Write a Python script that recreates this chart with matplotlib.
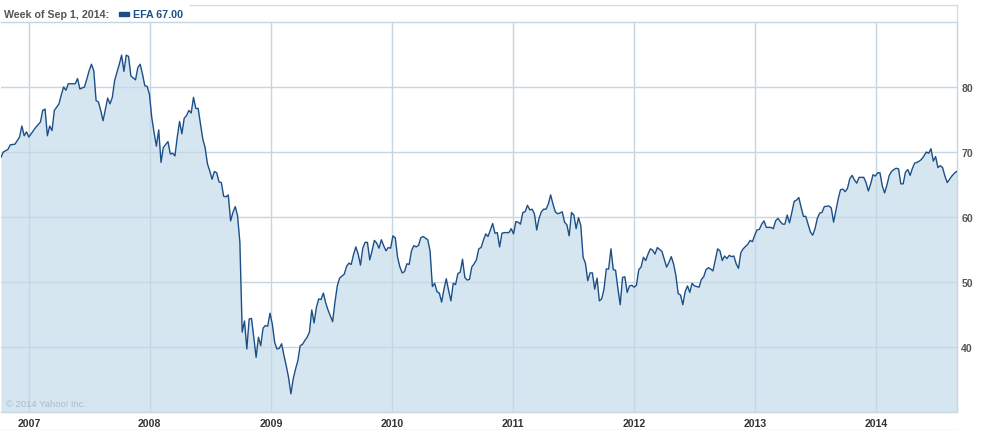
import numpy as np
import pandas as pd
import matplotlib
matplotlib.use("Agg")
import matplotlib.pyplot as plt
from matplotlib.lines import Line2D
from matplotlib.patches import Rectangle

# ---- data: weekly closes of EFA (weeks counted from the first week, Oct 9 2006) ----
start_week = "2006-10-09"
end_week = "2014-09-01"
week_index = [
    0, 1, 3, 4, 6, 8, 9, 10, 11, 12, 14, 15, 17, 18, 19, 20, 21, 22, 23, 25,
    26, 27, 28, 29, 32, 33, 34, 36, 37, 38, 39, 40, 41, 42, 43, 44, 46, 47, 48, 49,
    51, 52, 53, 54, 55, 56, 58, 59, 60, 61, 62, 63, 64, 65, 66, 67, 68, 69, 70, 72,
    73, 74, 75, 76, 77, 78, 79, 80, 81, 82, 83, 84, 85, 86, 87, 88, 89, 90, 91, 92,
    93, 94, 95, 96, 97, 98, 99, 100, 101, 102, 103, 104, 105, 106, 107, 108, 109, 110, 111, 112,
    113, 114, 115, 116, 117, 118, 119, 120, 121, 122, 123, 124, 125, 126, 127, 128, 129, 130, 131, 132,
    133, 134, 135, 136, 137, 138, 139, 140, 141, 142, 143, 144, 145, 146, 148, 149, 150, 151, 152, 153,
    154, 155, 156, 157, 158, 159, 160, 161, 162, 163, 164, 165, 166, 167, 168, 169, 170, 171, 172, 173,
    174, 175, 176, 177, 178, 179, 180, 181, 182, 184, 185, 186, 187, 188, 189, 190, 191, 192, 193, 194,
    195, 196, 197, 198, 199, 200, 201, 202, 203, 204, 205, 206, 207, 208, 209, 210, 212, 213, 214, 215,
    216, 217, 219, 220, 221, 222, 223, 224, 225, 226, 227, 228, 229, 230, 231, 232, 233, 234, 235, 236,
    237, 238, 239, 240, 241, 242, 243, 244, 245, 246, 247, 248, 249, 250, 251, 252, 253, 254, 255, 256,
    257, 258, 259, 260, 261, 262, 263, 264, 265, 266, 267, 268, 269, 270, 271, 272, 273, 274, 275, 276,
    277, 278, 279, 280, 281, 282, 283, 284, 285, 286, 287, 288, 289, 290, 291, 292, 293, 294, 295, 296,
    297, 298, 299, 301, 302, 303, 304, 305, 306, 307, 308, 309, 310, 311, 312, 313, 314, 315, 316, 317,
    318, 319, 320, 322, 323, 324, 325, 326, 327, 328, 329, 330, 331, 332, 333, 334, 335, 336, 337, 338,
    339, 340, 341, 342, 343, 344, 345, 346, 347, 348, 349, 350, 351, 352, 353, 354, 355, 357, 358, 359,
    360, 361, 362, 363, 364, 365, 366, 367, 368, 369, 370, 371, 372, 373, 374, 375, 376, 377, 378, 379,
    380, 381, 382, 383, 384, 385, 386, 387, 388, 389, 390, 391, 392, 393, 394, 395, 396, 397, 398, 399,
    400, 401, 402, 403, 404, 405, 406, 407, 408, 409, 410, 411, 412,
]
close = [
    69.2, 70.0, 70.4, 71.1, 71.2, 72.3, 74.0, 72.5, 73.1, 72.3, 73.3, 73.8, 74.6, 76.4, 76.6, 72.5, 74.0, 73.3, 76.4, 77.4,
    78.8, 80.0, 79.5, 80.5, 80.5, 81.3, 79.7, 80.0, 81.2, 82.5, 83.5, 82.5, 77.9, 77.7, 76.4, 74.8, 78.3, 77.4, 78.4, 81.0,
    83.5, 84.9, 82.4, 84.9, 84.7, 81.7, 81.1, 83.0, 83.5, 82.0, 80.2, 80.1, 78.9, 75.3, 73.0, 70.9, 73.4, 68.4, 70.7, 71.6,
    69.7, 69.8, 69.4, 72.3, 74.7, 72.8, 75.2, 75.6, 76.4, 76.0, 78.4, 76.7, 76.7, 74.3, 72.0, 70.7, 68.2, 67.1, 65.8, 67.0,
    66.8, 65.4, 65.3, 63.2, 63.1, 63.4, 59.4, 60.7, 61.6, 60.2, 56.1, 42.3, 44.0, 39.7, 44.3, 44.4, 41.5, 38.4, 41.5, 40.2,
    42.9, 43.3, 43.2, 45.2, 43.5, 40.7, 39.7, 39.8, 40.5, 38.7, 37.1, 35.3, 32.8, 35.1, 36.6, 37.9, 40.2, 40.4, 41.0, 41.5,
    42.3, 45.7, 43.7, 46.1, 47.4, 47.3, 48.3, 46.8, 45.7, 44.8, 43.9, 46.9, 49.4, 50.6, 51.2, 52.4, 52.9, 52.7, 54.2, 55.4,
    54.3, 52.6, 55.2, 56.1, 56.1, 53.4, 54.8, 56.4, 56.0, 55.2, 56.5, 55.6, 54.8, 55.3, 55.2, 57.1, 56.8, 53.8, 52.3, 51.4,
    51.6, 52.8, 52.7, 54.8, 55.6, 55.4, 55.6, 56.8, 57.0, 56.5, 54.8, 49.3, 49.8, 48.5, 48.3, 46.9, 48.9, 50.5, 48.7, 47.1,
    49.8, 49.6, 51.3, 51.5, 53.5, 50.7, 50.3, 50.4, 52.3, 52.8, 53.4, 55.1, 55.3, 56.4, 57.4, 57.0, 59.0, 57.5, 57.6, 55.4,
    57.5, 57.6, 57.6, 58.2, 57.4, 59.3, 59.2, 58.9, 60.7, 60.8, 61.8, 61.1, 61.2, 60.5, 58.0, 59.8, 60.8, 61.2, 61.2, 62.0,
    63.4, 62.0, 60.8, 60.5, 60.6, 60.8, 59.2, 58.8, 57.1, 60.7, 60.3, 58.2, 59.9, 58.7, 53.8, 52.9, 50.2, 51.4, 51.4, 48.9,
    50.6, 47.1, 47.4, 48.9, 52.0, 52.0, 55.1, 51.9, 51.8, 49.0, 46.5, 50.7, 50.8, 48.4, 49.4, 49.5, 49.2, 49.5, 51.9, 52.3,
    53.8, 53.3, 54.3, 55.1, 54.9, 54.3, 55.3, 55.0, 54.7, 53.5, 52.3, 53.0, 53.9, 52.8, 51.0, 48.2, 48.0, 46.5, 48.5, 49.4,
    48.4, 49.8, 49.4, 49.2, 50.4, 50.8, 51.9, 52.2, 52.0, 51.7, 53.4, 55.1, 54.8, 53.3, 54.0, 53.6, 54.1, 53.9, 54.0, 52.8,
    52.1, 54.5, 55.1, 55.8, 56.4, 56.2, 57.2, 58.0, 58.1, 58.9, 59.4, 58.4, 58.4, 58.4, 58.2, 59.4, 59.8, 59.3, 58.9, 58.9,
    60.3, 59.1, 60.7, 62.4, 62.6, 63.0, 61.5, 60.1, 60.1, 58.9, 57.7, 57.2, 58.2, 59.8, 60.6, 60.7, 61.6, 61.7, 61.4, 59.2,
    61.0, 62.8, 64.2, 64.3, 63.9, 64.4, 65.9, 66.4, 65.7, 65.2, 66.1, 66.1, 66.1, 65.3, 64.0, 65.1, 66.5, 66.3, 66.8, 66.8,
    64.8, 63.7, 64.9, 66.4, 67.0, 67.3, 67.5, 67.4, 65.1, 65.1, 66.9, 67.3, 66.4, 67.5, 68.3, 68.4, 68.6, 68.9, 69.4, 70.0,
    69.8, 70.5, 68.6, 69.3, 67.6, 67.9, 67.6, 66.3, 65.3, 65.8, 66.3, 66.7, 67.0,
]
year_ticks = [2007, 2008, 2009, 2010, 2011, 2012, 2013, 2014]
y_ticks = [40, 50, 60, 70, 80]
y_range = (30, 90)
ticker = "EFA"
header_date = "Week of Sep 1, 2014:"
last_close = 67.00

# ---- styling ----
LINE = "#1d4f87"
FILL = "#d6e6f1"
GRID = "#c6d6e2"
FRAME = "#dcdcdc"
FONT = "Liberation Sans"

dates = pd.Timestamp(start_week) + pd.to_timedelta(np.array(week_index) * 7, unit="D")
vals = np.array(close)

W, H = 981, 431
fig = plt.figure(figsize=(W / 100, H / 100), dpi=100)
fig.patch.set_facecolor("white")

left, right, top, bottom = 1, 956.5, 23, 413
ax = fig.add_axes([left / W, 1 - bottom / H, (right - left) / W, (bottom - top) / H])
ax.set_facecolor("white")

ax.fill_between(dates, vals, y_range[0], color=FILL, lw=0, zorder=1)
ax.plot(dates, vals, color=LINE, lw=1.0, zorder=3, solid_joinstyle="round")

ax.set_xlim(pd.Timestamp(start_week), pd.Timestamp(end_week))
ax.set_ylim(*y_range)

xt = [pd.Timestamp(f"{y}-01-01") for y in year_ticks]
ax.set_xticks(xt)
ax.set_xticklabels([str(y) for y in year_ticks])
ax.set_yticks(y_ticks)
ax.set_yticklabels([str(v) for v in y_ticks])

ax.grid(True, color=GRID, lw=1.0, zorder=2)
for gl in ax.get_xgridlines() + ax.get_ygridlines():
    gl.set_zorder(2)

ax.yaxis.tick_right()
ax.tick_params(axis="both", length=0)
ax.tick_params(axis="x", pad=4, labelsize=7.6, labelcolor="#333333")
ax.tick_params(axis="y", pad=3.5, labelsize=7.6, labelcolor="#555555")
for lab in ax.get_xticklabels() + ax.get_yticklabels():
    lab.set_fontweight("bold")
    lab.set_fontfamily(FONT)

for side in ["top", "right", "bottom", "left"]:
    ax.spines[side].set_color(GRID)
    ax.spines[side].set_linewidth(1.0)
ax.spines["left"].set_visible(False)

# outer frame lines
fig.add_artist(Line2D([190 / W, right / W], [1 - 5.5 / H, 1 - 5.5 / H], color=FRAME, lw=1.0))
fig.add_artist(Line2D([0, right / W], [1 - 430.5 / H, 1 - 430.5 / H], color=FRAME, lw=1.0))
fig.add_artist(Line2D([right / W, right / W], [1 - 23 / H, 1 - 5.5 / H], color=FRAME, lw=1.0))

# header
fig.text(4 / W, 1 - 15 / H, header_date, color="#555555", fontsize=7.7,
         fontweight="bold", va="center", ha="left", family=FONT)
fig.add_artist(Rectangle((119 / W, 1 - 16.5 / H), 10 / W, 4 / H,
                         transform=fig.transFigure, color=LINE))
fig.text(133 / W, 1 - 15 / H, f"{ticker} {last_close:.2f}", color=LINE, fontsize=7.7,
         fontweight="bold", va="center", ha="left", family=FONT)

# watermark
ax.text(5 / (right - left), 4 / (bottom - top), "\u00a9 2014 Yahoo! Inc.", transform=ax.transAxes,
        color="#a9bccb", fontsize=6.8, ha="left", va="bottom", zorder=4, family=FONT)

fig.savefig("out.png", dpi=100)
